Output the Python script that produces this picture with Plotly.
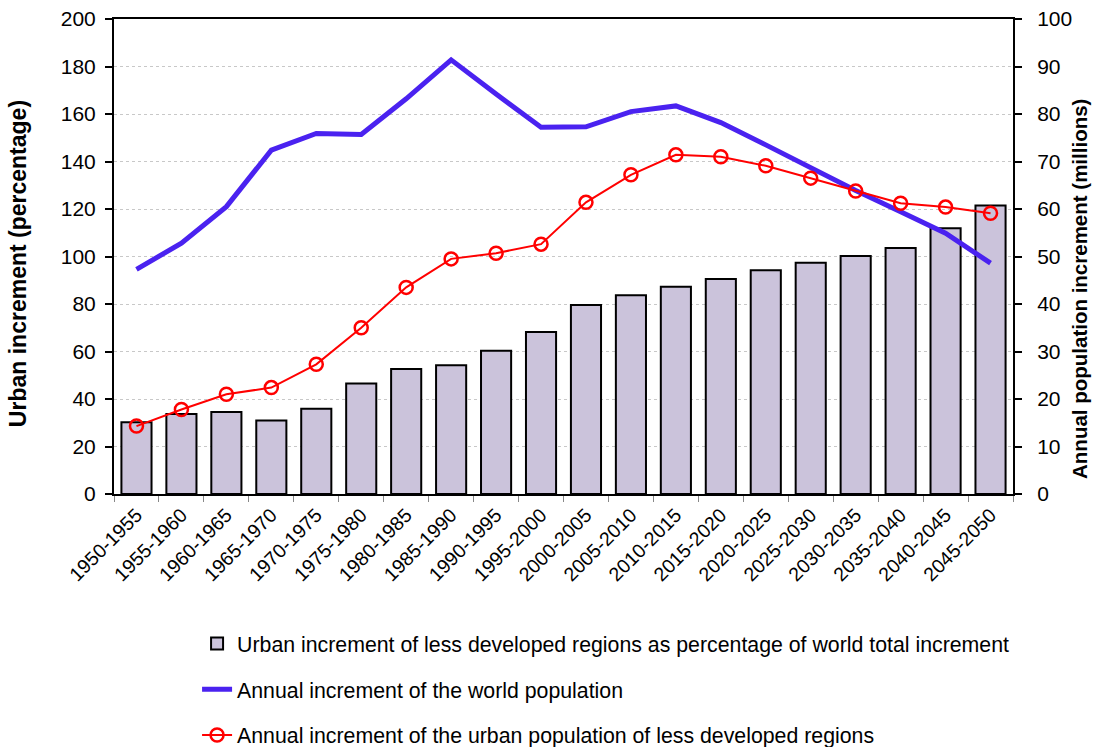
import plotly.graph_objects as go

periods = ["1950-1955", "1955-1960", "1960-1965", "1965-1970", "1970-1975",
           "1975-1980", "1980-1985", "1985-1990", "1990-1995", "1995-2000",
           "2000-2005", "2005-2010", "2010-2015", "2015-2020", "2020-2025",
           "2025-2030", "2030-2035", "2035-2040", "2040-2045", "2045-2050"]

urban_pct = [30.2, 33.7, 34.5, 30.9, 35.9, 46.5, 52.6, 54.2, 60.3, 68.2,
             79.6, 83.7, 87.3, 90.5, 94.2, 97.4, 100.2, 103.6, 111.9, 121.5]

world_increment = [47.3, 52.8, 60.5, 72.4, 75.9, 75.7, 83.2, 91.4, 84.2, 77.2,
                   77.3, 80.5, 81.7, 78.2, 73.5, 68.6, 63.9, 59.4, 54.9, 48.6]

urban_increment = [14.3, 17.8, 21.0, 22.4, 27.3, 35.0, 43.5, 49.5, 50.7, 52.6,
                   61.4, 67.2, 71.4, 71.0, 69.1, 66.5, 63.8, 61.2, 60.4, 59.1]

left_title = "Urban increment (percentage)"
right_title = "Annual population increment (millions)"

FONT = "Arial, Liberation Sans, sans-serif"

fig = go.Figure()
fig.add_trace(go.Bar(
    x=periods, y=urban_pct,
    name="Urban increment of less developed regions as percentage of world total increment",
    marker=dict(color="#CBC3DB", line=dict(color="black", width=2)),
    width=0.67, yaxis="y", legendgroup="a",
))
fig.add_trace(go.Scatter(
    x=periods, y=world_increment, mode="lines",
    name="Annual increment of the world population",
    line=dict(color="#4A22F0", width=5), yaxis="y2", legendgroup="b",
))
fig.add_trace(go.Scatter(
    x=periods, y=urban_increment, mode="lines+markers",
    name="Annual increment of the urban population of less developed regions",
    line=dict(color="#FF0000", width=2),
    marker=dict(symbol="circle-open", size=13, color="#FF0000", line=dict(width=2.5)),
    yaxis="y2", legendgroup="c",
))

fig.update_layout(
    width=1094, height=747,
    margin=dict(l=114, r=81, t=19, b=253, autoexpand=False),
    plot_bgcolor="white", paper_bgcolor="white",
    font=dict(family=FONT, size=19, color="black"),
    showlegend=True,
    legend=dict(
        x=0.0924, y=-0.272, xanchor="left", yanchor="top",
        traceorder="grouped", tracegroupgap=15,
        font=dict(size=21.3, family=FONT),
        bgcolor="rgba(0,0,0,0)",
    ),
    bargap=0.33,
    xaxis=dict(
        type="category", range=[-0.5, 19.5], automargin=False,
        showline=True, linecolor="black", linewidth=2, mirror=True,
        ticks="outside", tickson="boundaries", ticklen=6, tickcolor="#888888",
        tickangle=-45, tickfont=dict(size=19.5, family=FONT),
        showgrid=False,
    ),
    yaxis=dict(
        range=[0, 200], dtick=20, automargin=False,
        showline=True, linecolor="black", linewidth=2,
        ticks="outside", ticklen=7, tickwidth=2, tickcolor="black",
        ticklabelstandoff=5, ticklabeloverflow="allow",
        showgrid=True, gridcolor="#C8C8C8", griddash="dot", gridwidth=1,
        zeroline=False,
        tickfont=dict(size=21),
    ),
    yaxis2=dict(
        range=[0, 100], dtick=10, overlaying="y", side="right", automargin=False,
        showline=True, linecolor="black", linewidth=2,
        ticks="outside", ticklen=7, tickwidth=2, tickcolor="black",
        ticklabelstandoff=11, ticklabeloverflow="allow",
        showgrid=False, zeroline=False,
        tickfont=dict(size=21),
    ),
    annotations=[
        dict(text="<b>" + left_title + "</b>", xref="paper", yref="paper",
             x=-0.1068, y=0.486, xanchor="center", yanchor="middle",
             textangle=-90, showarrow=False, font=dict(size=23, family=FONT)),
        dict(text="<b>" + right_title + "</b>", xref="paper", yref="paper",
             x=1.0745, y=0.4316, xanchor="center", yanchor="middle",
             textangle=-90, showarrow=False, font=dict(size=20.5, family=FONT)),
    ],
)

fig.write_html(
    "out.html",
    config={"displayModeBar": False},
    post_script="document.body.style.margin='0';document.body.style.overflow='hidden';",
)
